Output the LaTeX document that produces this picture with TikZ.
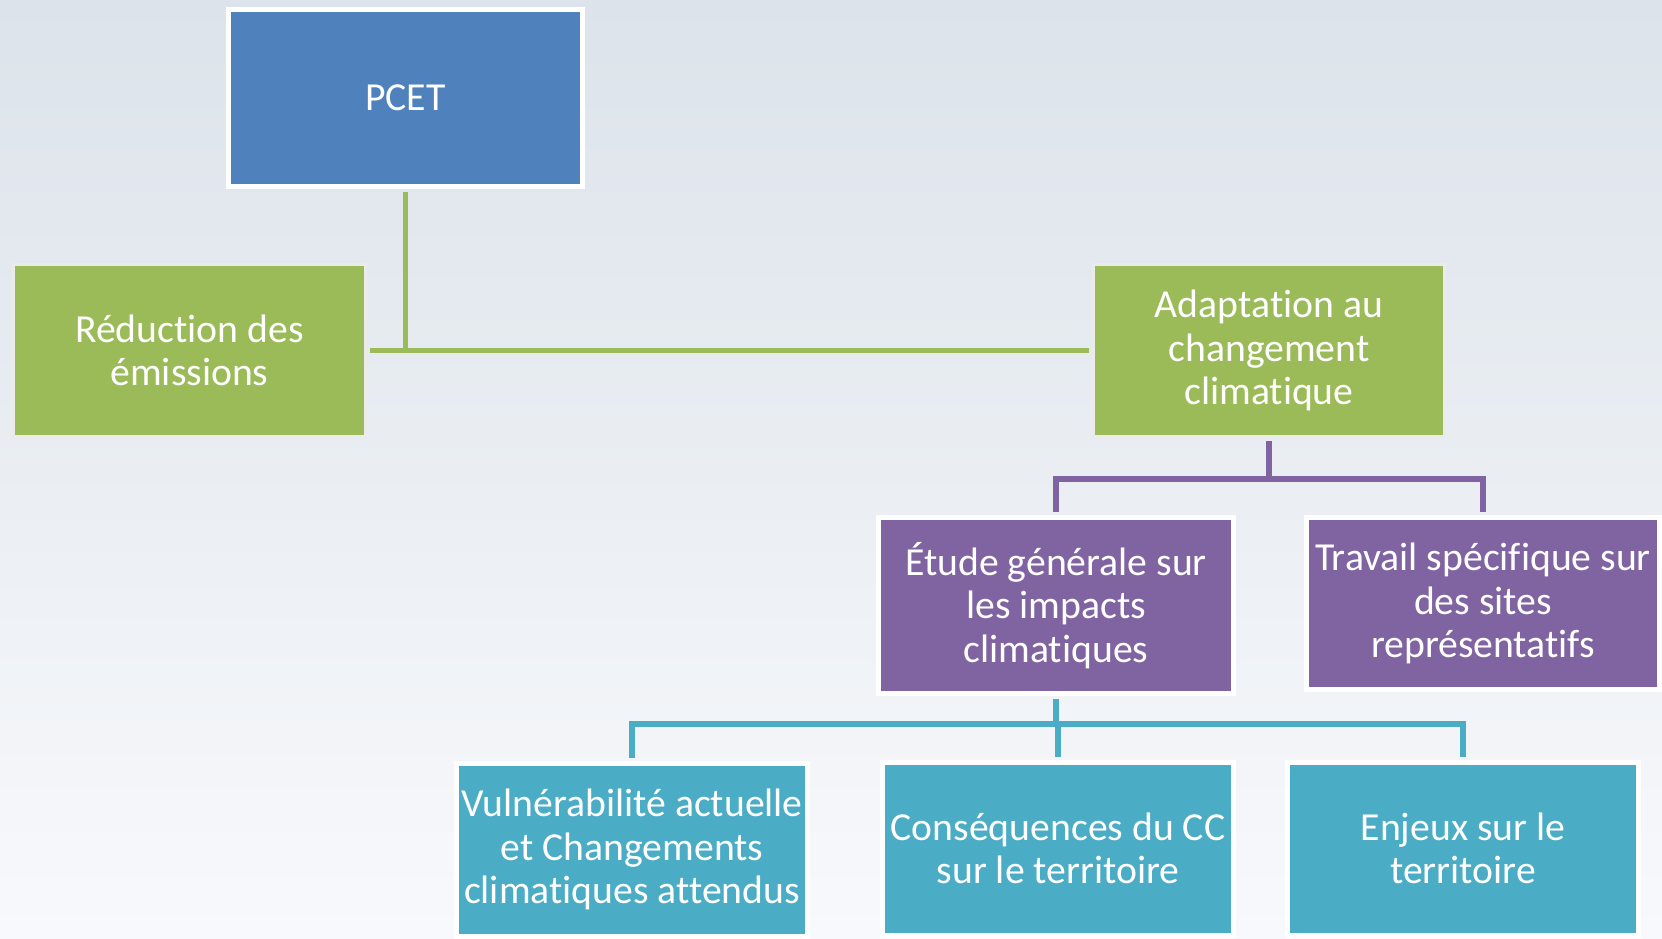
\documentclass[tikz,border=0pt]{standalone}
\usepackage{fontspec}
\setmainfont{Carlito}[Ligatures=NoCommon]
\usetikzlibrary{calc, positioning}

\definecolor{pcetblue}{HTML}{4F81BD}
\definecolor{axegreen}{HTML}{9BBB59}
\definecolor{etudepurple}{HTML}{8064A2}
\definecolor{detailteal}{HTML}{4BACC6}
\definecolor{bgtop}{HTML}{DCE3EA}
\definecolor{bgbottom}{HTML}{F8F9FC}

\begin{document}
\begin{tikzpicture}[x=0.02cm, y=-0.02cm,
    box/.style={rectangle, text=white, align=center, font=\fontsize{22.6}{24.6}\selectfont,
        minimum width=7.04cm, minimum height=3.46cm, inner sep=0pt},
    whitebox/.style={box, draw=white, line width=0.1cm},
    greybox/.style={box, draw=black!8, line width=0.06cm},
    link/.style={line width=0.11cm, shorten <=0.06cm, shorten >=0.06cm}]
    \fill[top color=bgtop, bottom color=bgbottom] (0,0) rectangle (1662,938);
    \useasboundingbox (0,0) rectangle (1662,938);

    \node[whitebox, fill=pcetblue, minimum width=7.08cm, minimum height=3.54cm] (pcet) at (405.5,98) {PCET};
    \node[greybox, fill=axegreen] (reduc) at (189.5,350.5) {Réduction des\\émissions};
    \node[greybox, fill=axegreen] (adapt) at (1269,350.5) {Adaptation au\\changement\\climatique};
    \node[whitebox, fill=etudepurple, minimum width=7.1cm, minimum height=3.52cm] (etude) at (1056,605.5) {Étude générale sur\\les impacts\\climatiques};
    \node[whitebox, fill=etudepurple, minimum width=7.08cm, minimum height=3.44cm] (travail) at (1483,603.5) {Travail spécifique sur\\des sites\\représentatifs};
    \node[whitebox, fill=detailteal] (vuln) at (632,849.5) {Vulnérabilité actuelle\\et Changements\\climatiques attendus};
    \node[whitebox, fill=detailteal] (cons) at (1058,848.5) {Conséquences du CC\\sur le territoire};
    \node[whitebox, fill=detailteal] (enjeux) at (1463,848.5) {Enjeux sur le\\territoire};

    \coordinate (pjoin) at (1269,479);
    \coordinate (tjoin) at (1056,724);

    \draw[link, axegreen] (reduc.east) -- (adapt.west);
    \draw[link, axegreen, shorten >=0pt] (pcet.south) -- (pcet.south |- reduc.east);
    \draw[link, etudepurple] (adapt.south) -- (pjoin) -| (etude.north);
    \draw[link, etudepurple, shorten <=0pt] (pjoin) -| (travail.north);
    \draw[link, detailteal, shorten >=0pt] (etude.south) -- (tjoin);
    \draw[link, detailteal, shorten <=0pt] (tjoin) -| (vuln.north);
    \draw[link, detailteal, shorten <=0pt] (tjoin) -| (cons.north);
    \draw[link, detailteal, shorten <=0pt] (tjoin) -| (enjeux.north);
\end{tikzpicture}
\end{document}
